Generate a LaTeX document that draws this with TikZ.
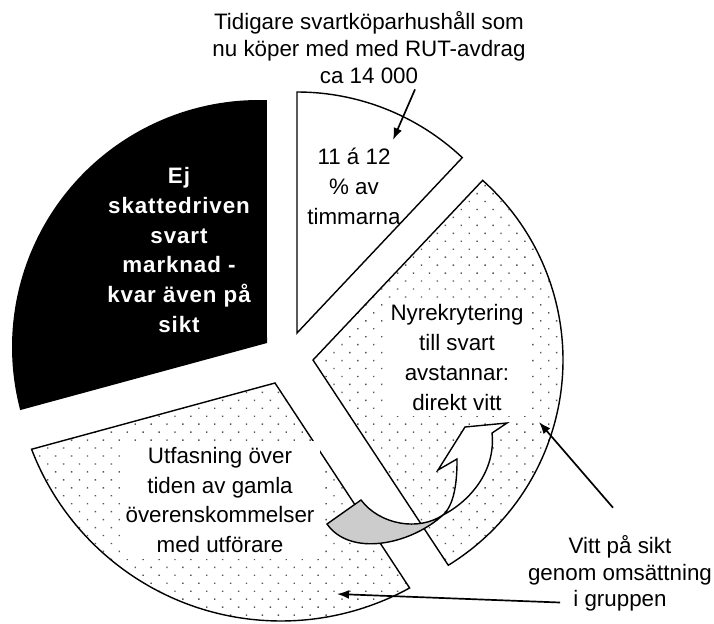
\documentclass[tikz,border=0pt]{standalone}
\usepackage{fontspec}
\setsansfont{Liberation Sans}
\usetikzlibrary{positioning,arrows.meta,calc,patterns.meta}
\definecolor{ink}{HTML}{000000}
\definecolor{dotc}{HTML}{555555}
\definecolor{twist}{HTML}{CCCCCC}

\begin{document}
\begin{tikzpicture}[
  font=\sffamily,
  every node/.style={font=\sffamily},
  slice/.style={draw=ink, line width=1pt, line join=miter},
  dotfill/.style={
    slice, preaction={fill=white},
    pattern={Dots[radius=0.7pt,distance=8pt,angle=45]}, pattern color=dotc
  },
  txt/.style={align=center, inner sep=4pt, font=\sffamily\fontsize{15.9}{21.3}\selectfont},
  pointer/.style={-{Latex[length=3mm,width=2.2mm]}, draw=ink, line width=1.2pt}
]

\useasboundingbox (0,0) rectangle (17.85,15.575);

% Slices (tip, arc centre, radius)
\coordinate (blackTip) at (6.675,7.0);
\coordinate (blackCtr) at (6.475,6.9);
\coordinate (whiteTip) at (7.425,7.25);
\coordinate (rightTip) at (7.825,6.575);
\coordinate (rightCtr) at (8.05,6.575);
\coordinate (lowTip)   at (6.875,6.0);
\coordinate (lowCtr)   at (7.025,6.725);

\fill[ink] (blackTip) -- ($(blackCtr)+(88.2:6.175)$) arc[start angle=88.2, end angle=194.8, radius=6.175] -- cycle;
\draw[slice, fill=white] (whiteTip) -- ++(46.7:6.025) arc[start angle=46.7, end angle=90, radius=6.025] -- cycle;
\draw[dotfill] (rightTip) -- ($(rightCtr)+(48.2:6.025)$) arc[start angle=48.2, end angle=-58.4, radius=6.025] -- cycle;
\draw[dotfill] (lowTip) -- ($(lowCtr)+(200.9:6.675)$) arc[start angle=200.9, end angle=298.8, radius=6.675] -- cycle;

% Labels
\node[txt, font=\sffamily\fontsize{15.9}{19.2}\selectfont] (rut) at (9.225,14.39) {Tidigare svartköparhushåll som\\nu köper med med RUT-avdrag\\ca 14 000};
\node[txt, text=white, font=\sffamily\bfseries\fontsize{15.9}{21.3}\selectfont\addfontfeature{LetterSpace=4}] (ej) at (4.475,9.325) {Ej\\skattedriven\\svart\\marknad -\\kvar även på\\sikt};
\node[txt] (andel) at (8.85,10.91) {11 á 12\\\% av\\timmarna};
\node[txt, fill=white] (nyrek) at (11.425,6.64) {Nyrekrytering\\till svart\\avstannar:\\direkt vitt};
\node[txt, fill=white] (utfas) at (5.5,3.075) {Utfasning över\\tiden av gamla\\överenskommelser\\med utförare};
\node[txt, font=\sffamily\fontsize{15.9}{18.9}\selectfont] (vitt) at (15.5,1.2375) {Vitt på sikt\\genom omsättning\\i gruppen};

% Curved arrow: grey underside, white head
\filldraw[slice, fill=twist] (8.175,2.475) -- (9.025,3.075)
  .. controls (9.5,2.45) and (10.47,2.29) .. (11.075,2.7)
  .. controls (10.25,1.95) and (8.75,1.65) .. cycle;
\filldraw[slice, fill=white] (11.075,2.7)
  .. controls (11.75,3.05) and (12.4,3.8) .. (12.3,4.75)
  -- (12.675,5.0) -- (11.625,4.9) -- (10.95,3.825) -- (11.425,4.1)
  .. controls (11.43,3.5) and (11.35,2.95) .. cycle;

% Pointers
\coordinate (rutTip)   at (9.825,12.075);
\coordinate (vittTipA) at (13.475,5.025);
\coordinate (vittTipB) at (8.425,0.725);
\draw[pointer] ([xshift=1.15cm]rut.south) -- (rutTip);
\draw[pointer] ([shift={(-0.175,0.55)}]vitt.north) -- (vittTipA);
\draw[pointer] ([shift={(0.95,0.37)}]vitt.south west) -- (vittTipB);

\end{tikzpicture}
\end{document}
